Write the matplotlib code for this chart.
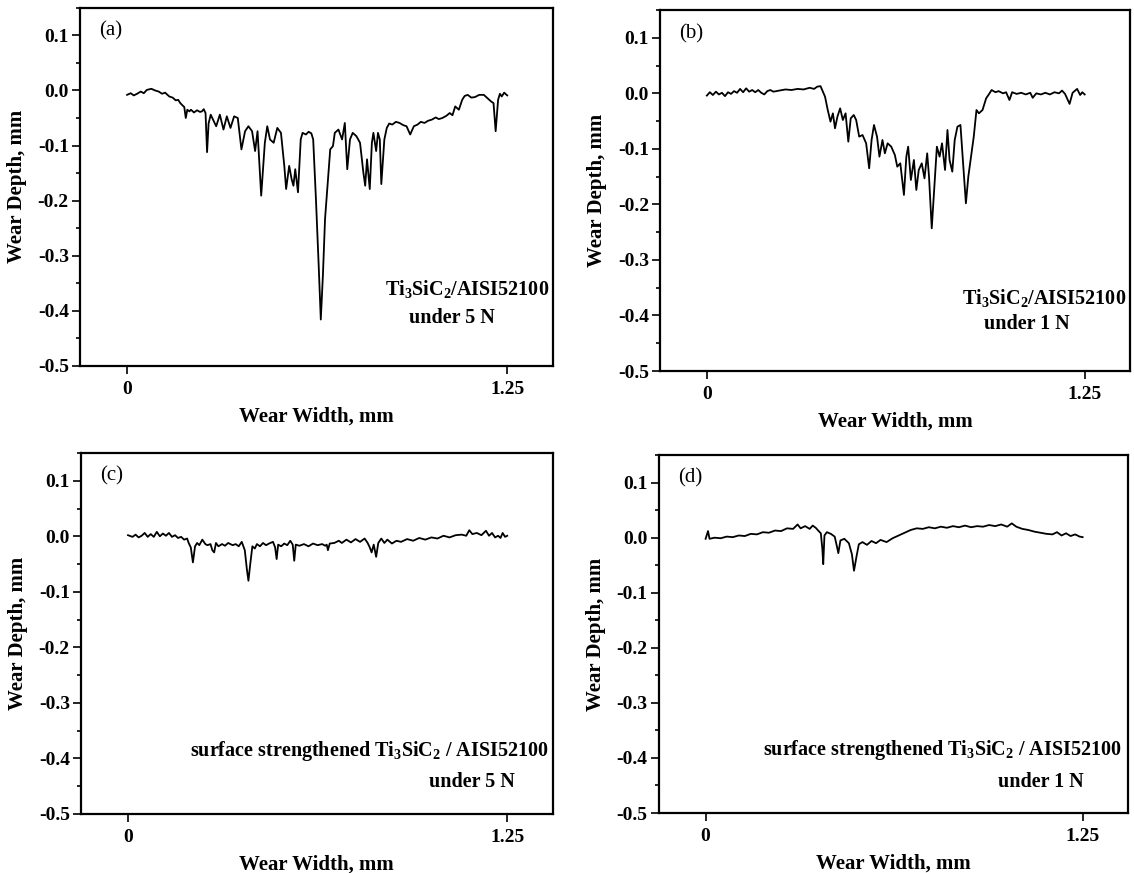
import matplotlib
matplotlib.use("Agg")
import matplotlib.pyplot as plt
from matplotlib.ticker import MultipleLocator

plt.rcParams["font.family"] = "Liberation Serif"
plt.rcParams["mathtext.fontset"] = "custom"
plt.rcParams["mathtext.rm"] = "Liberation Serif:bold"
plt.rcParams["mathtext.default"] = "rm"

# profiles as (wear width mm, wear depth mm)

# (a) Ti3SiC2/AISI52100 under 5 N
points_a = [
    (0.000, -0.008), (0.012, -0.005), (0.022, -0.009), (0.033, -0.006), (0.045, -0.002),
    (0.055, -0.005), (0.065, 0.001), (0.080, 0.003), (0.092, 0.000), (0.104, -0.002),
    (0.115, -0.006), (0.125, -0.004), (0.139, -0.011), (0.150, -0.013), (0.160, -0.018),
    (0.168, -0.017), (0.175, -0.023), (0.182, -0.027), (0.188, -0.030), (0.193, -0.050),
    (0.198, -0.035), (0.205, -0.038), (0.210, -0.035), (0.220, -0.040), (0.230, -0.036),
    (0.240, -0.039), (0.246, -0.038), (0.252, -0.034), (0.258, -0.041), (0.263, -0.112),
    (0.268, -0.060), (0.275, -0.044), (0.293, -0.065), (0.305, -0.044), (0.317, -0.071),
    (0.328, -0.047), (0.340, -0.068), (0.352, -0.047), (0.364, -0.050), (0.376, -0.107),
    (0.388, -0.074), (0.399, -0.065), (0.411, -0.074), (0.421, -0.110), (0.429, -0.074),
    (0.441, -0.191), (0.453, -0.095), (0.461, -0.065), (0.470, -0.089), (0.482, -0.095),
    (0.494, -0.068), (0.506, -0.077), (0.517, -0.137), (0.523, -0.179), (0.533, -0.137),
    (0.541, -0.161), (0.547, -0.173), (0.553, -0.143), (0.562, -0.185), (0.571, -0.089),
    (0.577, -0.077), (0.588, -0.080), (0.597, -0.075), (0.606, -0.078), (0.612, -0.089),
    (0.621, -0.197), (0.630, -0.317), (0.637, -0.416), (0.644, -0.335), (0.651, -0.233),
    (0.659, -0.173), (0.668, -0.107), (0.677, -0.101), (0.683, -0.077), (0.695, -0.071),
    (0.707, -0.089), (0.716, -0.059), (0.724, -0.143), (0.733, -0.089), (0.742, -0.077),
    (0.754, -0.083), (0.766, -0.095), (0.777, -0.149), (0.783, -0.173), (0.789, -0.125),
    (0.798, -0.179), (0.805, -0.095), (0.810, -0.077), (0.819, -0.110), (0.825, -0.077),
    (0.831, -0.089), (0.836, -0.170), (0.846, -0.089), (0.854, -0.068), (0.862, -0.060),
    (0.872, -0.062), (0.884, -0.057), (0.896, -0.059), (0.908, -0.063), (0.919, -0.065),
    (0.931, -0.080), (0.943, -0.065), (0.955, -0.062), (0.966, -0.057), (0.978, -0.059),
    (0.990, -0.055), (1.002, -0.053), (1.015, -0.049), (1.025, -0.052), (1.037, -0.050),
    (1.050, -0.046), (1.061, -0.041), (1.070, -0.045), (1.079, -0.029), (1.091, -0.035),
    (1.102, -0.017), (1.110, -0.010), (1.120, -0.008), (1.132, -0.013), (1.144, -0.012),
    (1.158, -0.008), (1.173, -0.008), (1.185, -0.014), (1.197, -0.020), (1.205, -0.023),
    (1.212, -0.074), (1.220, -0.017), (1.226, -0.006), (1.232, -0.011), (1.240, -0.004),
    (1.250, -0.009),
]

# (b) Ti3SiC2/AISI52100 under 1 N
points_b = [
    (0.000, -0.004), (0.010, 0.002), (0.020, -0.003), (0.030, 0.003), (0.040, -0.002),
    (0.050, 0.001), (0.060, -0.005), (0.070, 0.002), (0.080, -0.001), (0.090, 0.004),
    (0.100, 0.001), (0.110, 0.008), (0.120, 0.002), (0.130, 0.009), (0.140, 0.003),
    (0.150, 0.006), (0.160, 0.002), (0.170, 0.006), (0.180, 0.001), (0.190, -0.002),
    (0.200, 0.004), (0.210, 0.006), (0.220, 0.003), (0.240, 0.005), (0.260, 0.007),
    (0.280, 0.006), (0.300, 0.008), (0.320, 0.007), (0.340, 0.010), (0.355, 0.008),
    (0.365, 0.012), (0.376, 0.013), (0.391, -0.006), (0.400, -0.030), (0.409, -0.051),
    (0.417, -0.036), (0.424, -0.063), (0.432, -0.042), (0.441, -0.027), (0.450, -0.048),
    (0.459, -0.036), (0.468, -0.087), (0.476, -0.045), (0.486, -0.039), (0.494, -0.048),
    (0.504, -0.078), (0.515, -0.075), (0.527, -0.090), (0.537, -0.135), (0.545, -0.084),
    (0.553, -0.057), (0.563, -0.078), (0.571, -0.114), (0.581, -0.084), (0.589, -0.108),
    (0.598, -0.090), (0.610, -0.096), (0.622, -0.111), (0.630, -0.132), (0.640, -0.126),
    (0.652, -0.183), (0.660, -0.114), (0.666, -0.096), (0.675, -0.156), (0.685, -0.120),
    (0.693, -0.174), (0.701, -0.138), (0.711, -0.126), (0.720, -0.153), (0.729, -0.108),
    (0.735, -0.150), (0.744, -0.243), (0.752, -0.174), (0.761, -0.096), (0.770, -0.114),
    (0.778, -0.090), (0.788, -0.138), (0.796, -0.066), (0.803, -0.120), (0.812, -0.141),
    (0.820, -0.084), (0.829, -0.060), (0.839, -0.057), (0.847, -0.120), (0.857, -0.198),
    (0.865, -0.150), (0.874, -0.114), (0.883, -0.078), (0.892, -0.030), (0.900, -0.036),
    (0.912, -0.030), (0.924, -0.009), (0.934, -0.001), (0.942, 0.006), (0.955, 0.002),
    (0.965, 0.004), (0.980, 0.000), (0.990, 0.002), (1.001, -0.012), (1.010, 0.002),
    (1.025, -0.001), (1.040, 0.001), (1.055, -0.002), (1.070, 0.001), (1.078, -0.008),
    (1.090, 0.000), (1.105, -0.002), (1.120, 0.001), (1.135, -0.002), (1.150, 0.002),
    (1.165, 0.000), (1.175, 0.005), (1.185, -0.001), (1.200, -0.019), (1.210, 0.001),
    (1.225, 0.008), (1.235, -0.003), (1.242, 0.002), (1.250, -0.002),
]

# (c) surface strengthened Ti3SiC2 / AISI52100 under 5 N
points_c = [
    (0.000, 0.002), (0.015, -0.001), (0.025, 0.003), (0.035, -0.002), (0.045, 0.001),
    (0.055, 0.006), (0.065, -0.001), (0.075, 0.004), (0.085, -0.001), (0.095, 0.008),
    (0.105, 0.000), (0.115, 0.005), (0.125, 0.001), (0.135, 0.006), (0.145, -0.001),
    (0.155, 0.002), (0.165, -0.003), (0.175, -0.001), (0.185, -0.006), (0.195, -0.004),
    (0.200, -0.012), (0.207, -0.020), (0.214, -0.047), (0.221, -0.018), (0.228, -0.012),
    (0.235, -0.016), (0.245, -0.006), (0.255, -0.014), (0.262, -0.016), (0.272, -0.014),
    (0.278, -0.025), (0.284, -0.029), (0.290, -0.012), (0.298, -0.018), (0.310, -0.014),
    (0.320, -0.017), (0.330, -0.012), (0.345, -0.016), (0.355, -0.014), (0.365, -0.018),
    (0.375, -0.010), (0.385, -0.025), (0.392, -0.060), (0.397, -0.080), (0.403, -0.050),
    (0.410, -0.018), (0.418, -0.022), (0.425, -0.014), (0.435, -0.018), (0.445, -0.012),
    (0.455, -0.016), (0.465, -0.013), (0.478, -0.010), (0.485, -0.020), (0.490, -0.041),
    (0.495, -0.015), (0.505, -0.018), (0.515, -0.013), (0.525, -0.016), (0.535, -0.008),
    (0.543, -0.015), (0.548, -0.044), (0.553, -0.015), (0.565, -0.017), (0.580, -0.014),
    (0.595, -0.018), (0.610, -0.013), (0.625, -0.016), (0.640, -0.014), (0.650, -0.017),
    (0.655, -0.015), (0.659, -0.025), (0.665, -0.013), (0.680, -0.012), (0.695, -0.008),
    (0.705, -0.012), (0.720, -0.006), (0.735, -0.011), (0.750, -0.005), (0.765, -0.010),
    (0.780, -0.004), (0.790, -0.012), (0.797, -0.020), (0.803, -0.029), (0.810, -0.015),
    (0.818, -0.037), (0.825, -0.012), (0.835, -0.004), (0.845, -0.012), (0.855, -0.006),
    (0.870, -0.013), (0.885, -0.008), (0.900, -0.010), (0.920, -0.005), (0.940, -0.008),
    (0.960, -0.003), (0.980, -0.006), (1.000, -0.002), (1.020, -0.004), (1.040, 0.001),
    (1.060, -0.002), (1.080, 0.002), (1.100, 0.003), (1.115, 0.001), (1.125, 0.011),
    (1.135, 0.004), (1.150, 0.006), (1.165, 0.002), (1.180, 0.010), (1.190, 0.001),
    (1.200, 0.006), (1.210, -0.002), (1.220, 0.001), (1.228, -0.003), (1.235, 0.006),
    (1.243, -0.001), (1.250, 0.001),
]

# (d) surface strengthened Ti3SiC2 / AISI52100 under 1 N
points_d = [
    (0.000, -0.002), (0.008, 0.012), (0.013, -0.002), (0.030, 0.000), (0.050, -0.001),
    (0.070, 0.002), (0.090, 0.001), (0.110, 0.004), (0.130, 0.003), (0.150, 0.007),
    (0.170, 0.006), (0.190, 0.010), (0.210, 0.009), (0.230, 0.013), (0.250, 0.012),
    (0.270, 0.017), (0.290, 0.016), (0.305, 0.024), (0.315, 0.017), (0.330, 0.021),
    (0.345, 0.016), (0.355, 0.022), (0.365, 0.018), (0.375, 0.012), (0.382, 0.008),
    (0.387, -0.020), (0.390, -0.048), (0.394, 0.004), (0.402, 0.010), (0.415, 0.007),
    (0.428, 0.002), (0.435, -0.015), (0.440, -0.028), (0.447, -0.005), (0.460, -0.002),
    (0.475, -0.010), (0.485, -0.030), (0.492, -0.060), (0.500, -0.035), (0.508, -0.012),
    (0.520, -0.008), (0.535, -0.013), (0.550, -0.006), (0.565, -0.010), (0.580, -0.004),
    (0.600, -0.008), (0.620, -0.001), (0.640, 0.004), (0.660, 0.009), (0.680, 0.014),
    (0.700, 0.017), (0.720, 0.016), (0.740, 0.019), (0.760, 0.017), (0.780, 0.020),
    (0.800, 0.018), (0.820, 0.021), (0.840, 0.019), (0.860, 0.022), (0.880, 0.019),
    (0.900, 0.021), (0.920, 0.020), (0.940, 0.023), (0.960, 0.021), (0.980, 0.024),
    (1.000, 0.020), (1.015, 0.026), (1.030, 0.020), (1.050, 0.016), (1.070, 0.014),
    (1.090, 0.011), (1.110, 0.009), (1.130, 0.007), (1.150, 0.006), (1.165, 0.010),
    (1.180, 0.004), (1.195, 0.008), (1.210, 0.003), (1.225, 0.006), (1.240, 0.002),
    (1.250, 0.001),
]

panel_tags = ["(a)", "(b)", "(c)", "(d)"]
material_labels = [r"Ti$_3$SiC$_2$/AISI52100", r"Ti$_3$SiC$_2$/AISI52100",
                   r"surface strengthened Ti$_3$SiC$_2$ / AISI52100",
                   r"surface strengthened Ti$_3$SiC$_2$ / AISI52100"]
load_labels = ["under 5 N", "under 1 N", "under 5 N", "under 1 N"]

x_ticks = [0, 1.25]
x_tick_labels = ["0", "1.25"]
y_ticks = [-0.5, -0.4, -0.3, -0.2, -0.1, 0.0, 0.1]
y_tick_labels = ["-0.5", "-0.4", "-0.3", "-0.2", "-0.1", "0.0", "0.1"]

profiles = [points_a, points_b, points_c, points_d]

fig = plt.figure(figsize=(11.34, 8.73), dpi=100)

rects = [[0.0705, 0.581, 0.417, 0.410],
         [0.582, 0.575, 0.4145, 0.4135],
         [0.0714, 0.0676, 0.416, 0.4135],
         [0.581, 0.0687, 0.4136, 0.410]]
# text placement (data coords): line1 right edge, line1 y, line2 centre, line2 y
text_pos = [(1.387, -0.360, 1.067, -0.413),
            (1.386, -0.369, 1.060, -0.416),
            (1.387, -0.386, 1.134, -0.443),
            (1.380, -0.386, 1.110, -0.443)]

for i in range(4):
    ax = fig.add_axes(rects[i])
    xv = [p[0] for p in profiles[i]]
    yv = [p[1] for p in profiles[i]]
    ax.plot(xv, yv, color="black", linewidth=1.3)

    ax.set_xlim(-0.155, 1.40)
    ax.set_ylim(-0.5, 0.15)

    ax.set_xticks(x_ticks)
    ax.set_xticklabels(x_tick_labels, fontsize=14, fontweight="bold")
    ax.set_yticks(y_ticks)
    ax.set_yticklabels(y_tick_labels, fontsize=14, fontweight="bold")
    ax.yaxis.set_minor_locator(MultipleLocator(0.05))

    ax.tick_params(axis="both", which="major", direction="out",
                   length=6, width=1.2, top=False, right=False)
    ax.tick_params(axis="y", which="minor", direction="out", length=3, width=1.2)
    ax.tick_params(axis="x", pad=5)
    ax.tick_params(axis="y", pad=2)

    for s in ax.spines.values():
        s.set_linewidth(1.6)

    ax.set_xlabel("Wear Width, mm", fontsize=15, fontweight="bold", labelpad=6)
    ax.set_ylabel("Wear Depth, mm", fontsize=15, fontweight="bold", labelpad=8)

    ax.text(-0.092, 0.108, panel_tags[i], fontsize=15, ha="left", va="center")

    r1, y1, c2, y2 = text_pos[i]
    ax.text(r1, y1, material_labels[i], fontsize=14.5, fontweight="bold",
            ha="right", va="center")
    ax.text(c2, y2, load_labels[i], fontsize=14.5, fontweight="bold",
            ha="center", va="center")

fig.savefig("out.png", dpi=100)
